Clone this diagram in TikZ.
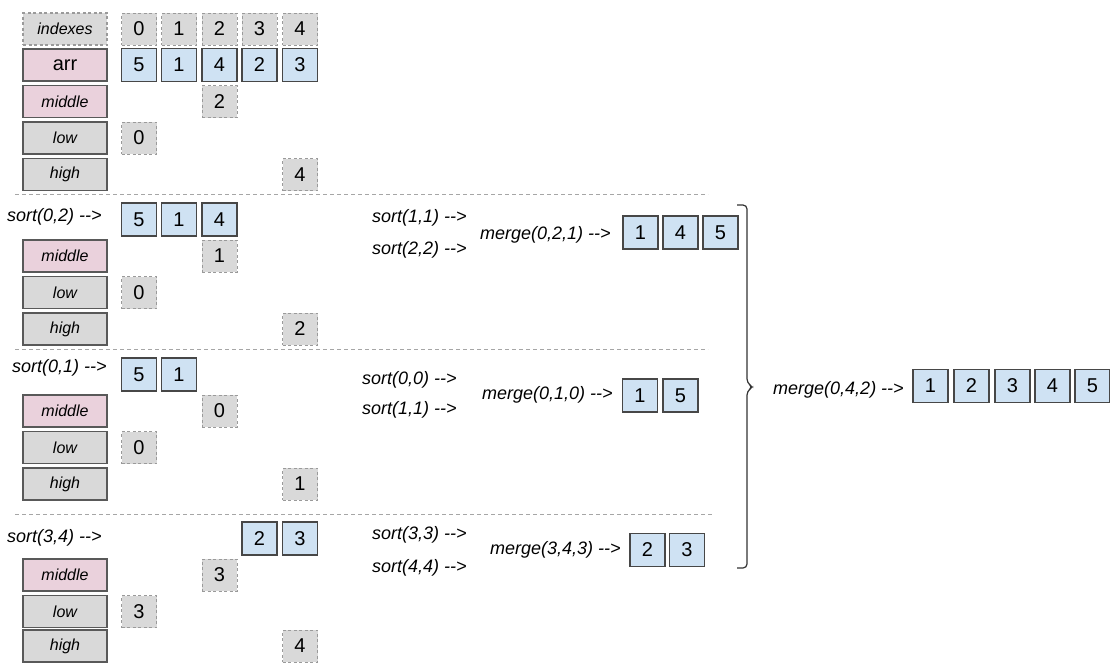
\documentclass[tikz,border=0pt]{standalone}
\usepackage{fontspec}
\setmainfont{Liberation Sans}
\usepackage{tikz}
\usetikzlibrary{positioning}
\definecolor{edge}{HTML}{595959}
\definecolor{dedge}{HTML}{9A9A9A}
\definecolor{greyf}{HTML}{D9D9D9}
\definecolor{pinkf}{HTML}{EAD1DC}
\definecolor{bluef}{HTML}{CFE2F3}
\definecolor{rule}{HTML}{A6A6A6}
\tikzset{
  lbl/.style={draw=edge,fill=greyf,line width=1.2pt,minimum width=84pt,minimum height=32pt,inner sep=0pt,font=\fontsize{16}{18}\selectfont\itshape},
  plbl/.style={lbl,fill=pinkf},
  idx/.style={draw=dedge,dashed,dash pattern=on 3pt off 2.5pt,fill=greyf,line width=1pt,minimum width=35pt,minimum height=32pt,inner sep=0pt,font=\fontsize{20}{22}\selectfont},
  cell/.style={draw=edge!80!black,fill=bluef,line width=1.3pt,minimum width=35pt,minimum height=33pt,inner sep=0pt,font=\fontsize{20}{22}\selectfont},
  call/.style={anchor=west,inner sep=0pt,font=\fontsize{18}{20}\selectfont\itshape},
  sep/.style={draw=rule,line width=1pt,dash pattern=on 4pt off 3pt},
  brc/.style={draw=black!80,line width=1.2pt,rounded corners=4pt},
}
\begin{document}
\begin{tikzpicture}[x=1pt,y=-1pt]
\useasboundingbox (0,0) rectangle (1110,662);
% first block: the whole array
\node[lbl,dashed,dash pattern=on 3pt off 2.5pt,draw=dedge] (lidx) at (65,29) {indexes};
\node[plbl,font=\fontsize{20}{22}\selectfont] (larr) at (65,65) {arr};
\node[plbl] (lmid) at (65,101.5) {middle};
\node[lbl] (llow) at (65,138) {low};
\node[lbl] (lhigh) at (65,174.5) {high};
\node[idx] (i0) at (139,29) {0}; \node[idx] (i1) at (179,29) {1}; \node[idx] (i2) at (219.5,29) {2};
\node[idx] (i3) at (259.5,29) {3}; \node[idx] (i4) at (300,29) {4};
\node[cell] (a0) at (139,65) {5}; \node[cell] (a1) at (179,65) {1}; \node[cell] (a2) at (219.5,65) {4};
\node[cell] (a3) at (259.5,65) {2}; \node[cell] (a4) at (300,65) {3};
\node[idx] (vmid) at (219.5,101.5) {2};
\node[idx] (vlow) at (139,138) {0};
\node[idx] (vhigh) at (300,174.5) {4};
\draw[sep] (15,194) -- (708,194);

% second block: sort(0,2)
\node[call] (s02) at (7,217) {sort(0,2) -{}->};
\node[cell] (b0) at (139,219.5) {5}; \node[cell] (b1) at (179,219.5) {1}; \node[cell] (b2) at (219.5,219.5) {4};
\node[plbl] (lmid2) at (65,256) {middle};
\node[lbl] (llow2) at (65,292.5) {low};
\node[lbl] (lhigh2) at (65,329) {high};
\node[idx] (vmid2) at (219.5,256) {1};
\node[idx] (vlow2) at (139,292.5) {0};
\node[idx] (vhigh2) at (300,329) {2};
\node[call] (s11a) at (372,218) {sort(1,1) -{}->};
\node[call] (s22) at (372,250) {sort(2,2) -{}->};
\node[call] (m021) at (480,235) {merge(0,2,1) -{}->};
\node[cell] (r0) at (640.5,232.5) {1}; \node[cell] (r1) at (680.5,232.5) {4}; \node[cell] (r2) at (720.5,232.5) {5};
\draw[sep] (15,349) -- (708,349);

% third block: sort(0,1)
\node[call] (s01) at (12,368) {sort(0,1) -{}->};
\node[cell] (c0) at (139,374.5) {5}; \node[cell] (c1) at (179,374.5) {1};
\node[plbl] (lmid3) at (65,411) {middle};
\node[lbl] (llow3) at (65,447.5) {low};
\node[lbl] (lhigh3) at (65,484) {high};
\node[idx] (vmid3) at (219.5,411) {0};
\node[idx] (vlow3) at (139,447.5) {0};
\node[idx] (vhigh3) at (300,484) {1};
\node[call] (s00) at (362,380) {sort(0,0) -{}->};
\node[call] (s11b) at (362,410) {sort(1,1) -{}->};
\node[call] (m010) at (482,395) {merge(0,1,0) -{}->};
\node[cell] (q0) at (640,395.5) {1}; \node[cell] (q1) at (680.5,395.5) {5};
\draw[sep] (15,514) -- (712,514);

% fourth block: sort(3,4)
\node[call] (s34) at (7,538) {sort(3,4) -{}->};
\node[cell] (d3) at (259.5,538.5) {2}; \node[cell] (d4) at (300,538.5) {3};
\node[plbl] (lmid4) at (65,575) {middle};
\node[lbl] (llow4) at (65,611.5) {low};
\node[lbl] (lhigh4) at (65,646) {high};
\node[idx] (vmid4) at (219.5,575) {3};
\node[idx] (vlow4) at (139,611.5) {3};
\node[idx] (vhigh4) at (300,646) {4};
\node[call] (s33) at (372,535) {sort(3,3) -{}->};
\node[call] (s44) at (372,568) {sort(4,4) -{}->};
\node[call] (m343) at (490,550) {merge(3,4,3) -{}->};
\node[cell] (p0) at (647.5,550) {2}; \node[cell] (p1) at (687,550) {3};

% brace and final merge
\coordinate (btop) at (737,205);
\coordinate (bbot) at (737,568);
\draw[brc] (btop) -- (747,205) -- (747,383) -- (753,387) -- (747,391) -- (747,568) -- (bbot);
\node[call] (m042) at (773,390) {merge(0,4,2) -{}->};
\node[cell] (f0) at (930.5,386) {1}; \node[cell] (f1) at (971.5,386) {2}; \node[cell] (f2) at (1012.5,386) {3};
\node[cell] (f3) at (1052.5,386) {4}; \node[cell] (f4) at (1092.5,386) {5};
\end{tikzpicture}
\end{document}
